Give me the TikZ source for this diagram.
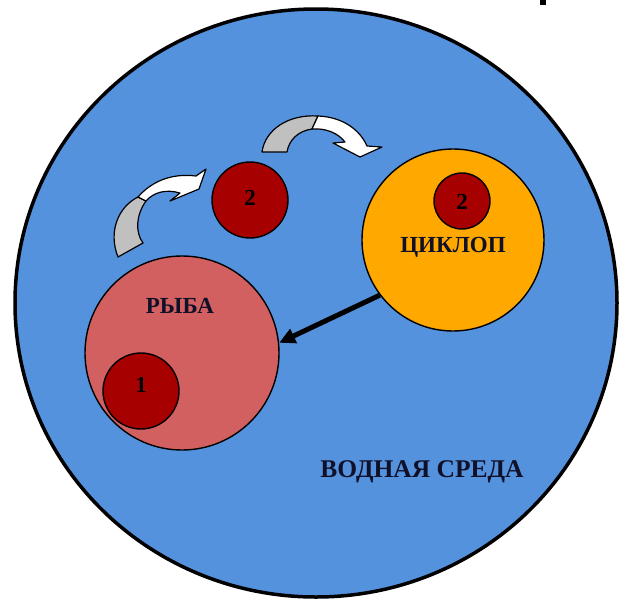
\documentclass[tikz,border=0pt]{standalone}
\usepackage{fontspec}
\setmainfont{Liberation Serif}
\usetikzlibrary{shapes.geometric,arrows.meta}
\definecolor{water}{RGB}{85,146,222}
\definecolor{fishc}{RGB}{210,96,96}
\definecolor{egg}{RGB}{166,0,0}
\definecolor{cyco}{RGB}{255,168,0}
\definecolor{ribbon}{RGB}{192,192,192}
\definecolor{ink}{RGB}{16,16,40}
\tikzset{
  blob/.style={circle,draw=black,line width=1.4pt,inner sep=0pt},
  lab/.style={font=\bfseries\fontsize{23}{26}\selectfont,text=ink,inner sep=0pt},
  num/.style={font=\bfseries\fontsize{23}{26}\selectfont,text=black,inner sep=0pt},
  rib/.style={draw=black,line width=1.2pt,line join=round}
}
\begin{document}
\begin{tikzpicture}[x=1pt,y=-1pt]
\useasboundingbox (0,0) rectangle (619,603);
\fill[white] (0,0) rectangle (619,603);
\fill[black] (540,0) rectangle (546,5);
% water
\node[ellipse,draw=black,line width=3.5pt,fill=water,minimum width=602pt,minimum height=588pt,inner sep=0pt] (water) at (316,303) {};
% fish
\node[blob,fill=fishc,minimum size=194pt] (fish) at (182,353) {};
\node[blob,fill=egg,minimum size=76pt] (egg1) at (141,391) {};
\node[num] (n1) at (141,385) {1};
\node[lab] (fishlab) at (180,306) {РЫБА};
% cyclops
\node[blob,fill=cyco,minimum size=182pt] (cyc) at (453,240) {};
\node[blob,fill=egg,minimum size=56pt] (egg3) at (462,201) {};
\node[num] (n3) at (462,202) {2};
\node[lab] (cyclab) at (453,247) {ЦИКЛОП};
% free larva
\node[blob,fill=egg,minimum size=76pt] (egg2) at (250,200) {};
\node[num] (n2) at (250,198) {2};
% water label
\node[lab,font=\bfseries\fontsize{25.5}{28}\selectfont] (waterlab) at (422,472) {ВОДНАЯ СРЕДА};
% black arrow
\draw[line width=5pt,-{Triangle[length=16pt,width=15pt]}] (cyc.217) -- (fish.6);
% left curved arrow
\filldraw[rib,fill=ribbon] (118,257) .. controls (108,232) and (118,207) .. (138,197)
  -- (146,201) .. controls (136,215) and (135,232) .. (143,243) -- cycle;
\filldraw[rib,fill=white] (138,197) .. controls (152,181) and (172,173) .. (196,176)
  -- (206,169) -- (199,189) -- (170,201) -- (180,193)
  .. controls (166,189) and (154,192) .. (146,201) -- cycle;
% top curved arrow
\filldraw[rib,fill=ribbon] (262,152) .. controls (265,130) and (288,114) .. (318,116)
  -- (312,129) .. controls (298,131) and (289,140) .. (287,152) -- cycle;
\filldraw[rib,fill=white] (318,116) .. controls (343,117) and (360,130) .. (367,146)
  -- (382,147) -- (360,157) -- (333,143) -- (345,142)
  .. controls (338,133) and (326,128) .. (312,129) -- cycle;
\end{tikzpicture}
\end{document}
